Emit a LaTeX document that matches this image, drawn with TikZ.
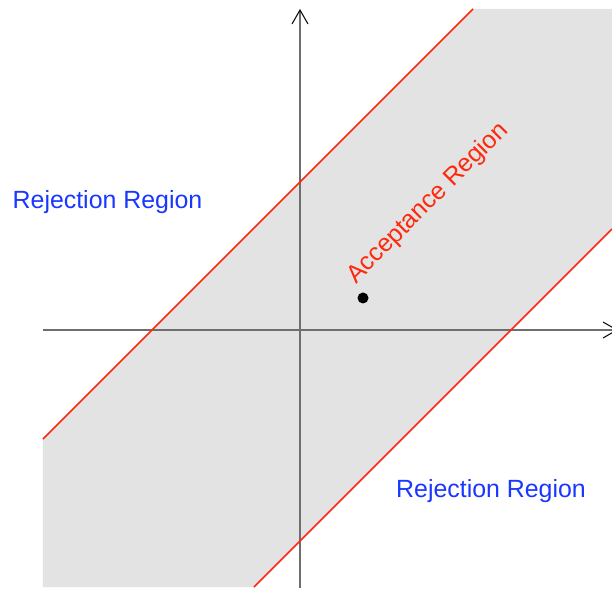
\documentclass[tikz,border=0pt]{standalone}
\usepackage{fontspec}
\setmainfont{Liberation Sans}
\usetikzlibrary{arrows.meta}
\definecolor{bandgray}{RGB}{227,227,227}
\definecolor{rred}{RGB}{255,40,10}
\definecolor{rblue}{RGB}{25,55,255}
\definecolor{axisgray}{RGB}{110,110,110}
\tikzset{
  axisline/.style={draw=axisgray, line width=1.3pt, -{Straight Barb[length=14pt,width=16pt,line width=1pt,color=black]}},
  boundary/.style={draw=rred, line width=1.6pt},
  rejlabel/.style={text=rblue, font=\fontsize{24.9}{28}\selectfont, anchor=base, inner sep=0pt},
  acclabel/.style={text=rred, font=\fontsize{24.9}{28}\selectfont, anchor=base, inner sep=0pt, rotate=45},
}
\begin{document}
\begin{tikzpicture}[x=1pt,y=1pt]
\useasboundingbox (-300,-258) rectangle (312,330);
% band
\fill[bandgray] (-257,-257) -- (-257,-109) -- (173,321) -- (312,321) -- (312,101) -- (-46,-257) -- cycle;
% axes
\coordinate (xs) at (-257,0);
\coordinate (xe) at (318,0);
\coordinate (ys) at (0,-258);
\coordinate (ye) at (0,321);
\draw[axisline] (xs) -- (xe);
\draw[axisline] (ys) -- (ye);
% boundary lines
\coordinate (u1) at (-257,-109);
\coordinate (u2) at (173,321);
\coordinate (l1) at (-46,-257);
\coordinate (l2) at (312,101);
\draw[boundary] (u1) -- (u2);
\draw[boundary] (l1) -- (l2);
% point
\fill[black] (63,32) circle (5.5);
% labels
\node[rejlabel] (rej1) at (-192.5,121.5) {Rejection Region};
\node[rejlabel] (rej2) at (191,-167) {Rejection Region};
\node[acclabel] (acc) at (132.5,122) {Acceptance Region};
\end{tikzpicture}
\end{document}
